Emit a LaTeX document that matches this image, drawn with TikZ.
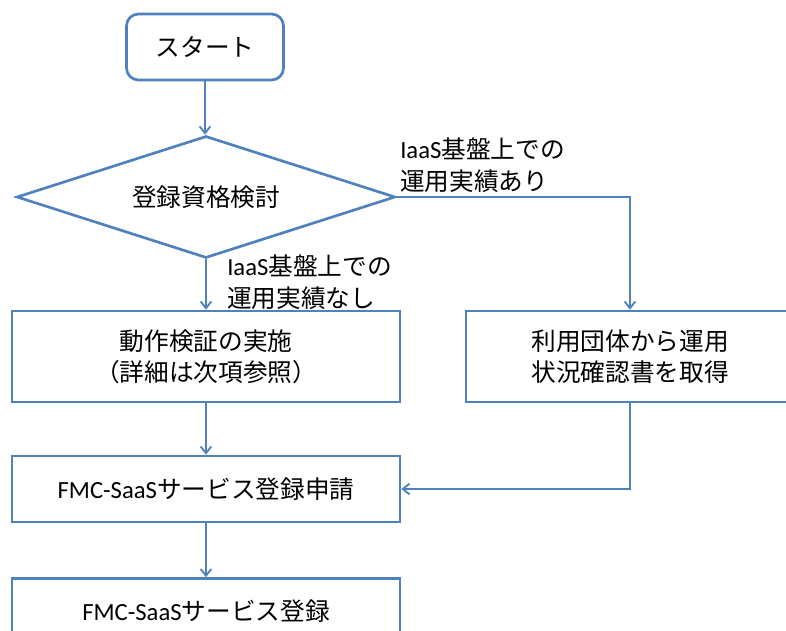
\documentclass[tikz,border=0pt]{standalone}
\usepackage{fontspec}
\setmainfont{Noto Sans CJK JP}
\newfontfamily\latinfont{Carlito}
\usetikzlibrary{shapes.geometric,arrows.meta}
\definecolor{flowblue}{RGB}{79,129,189}

\begin{document}
\begin{tikzpicture}[x=0.75pt, y=-0.75pt,
    every node/.style={font=\fontsize{18.5}{23.5}\selectfont, text=black},
    box/.style={draw=flowblue, line width=2pt, minimum width=291pt, inner sep=0pt, align=center},
    label/.style={inner sep=0pt, anchor=west, align=left},
    link/.style={draw=flowblue, line width=1.4pt, -{Straight Barb[length=5pt,width=8pt]}}]
    \clip (0,0) rectangle (786,631);
    % Draw start and check
    \node[box, rounded corners=9pt, minimum width=117.75pt, minimum height=49.5pt] (start) at (205,47) {スタート};
    \node[box, diamond, aspect=3, minimum width=284pt, minimum height=91.5pt] (check) at (206,197) {登録資格検討};
    % Draw the two branches
    \node[box, minimum height=68.25pt] (test) at (206,356.5) {動作検証の実施\\（詳細は次項参照）};
    \node[box, minimum width=246pt, minimum height=68.25pt] (report) at (630,356.5) {利用団体から運用\\状況確認書を取得};
    % Draw application and registration
    \node[box, minimum height=49.5pt] (apply) at (206,489) {{\latinfont FMC-SaaS}サービス登録申請};
    \node[box, minimum height=49.5pt] (register) at (206,611.5) {{\latinfont FMC-SaaS}サービス登録};
    % Draw branch labels
    \node[label] (lblyes) at (400,165) {{\latinfont IaaS}基盤上での\\運用実績あり};
    \node[label] (lblno) at (227,282) {{\latinfont IaaS}基盤上での\\運用実績なし};
    % Draw connectors
    \draw[link] (start.south) -- (start.south |- check.north);
    \draw[link] (check.south) -- (check.south |- test.north);
    \draw[link] (check.east) -| (report.north);
    \draw[link] (test) -- (apply);
    \draw[link] (report.south) |- (apply.east);
    \draw[link] (apply) -- (register);
\end{tikzpicture}
\end{document}
